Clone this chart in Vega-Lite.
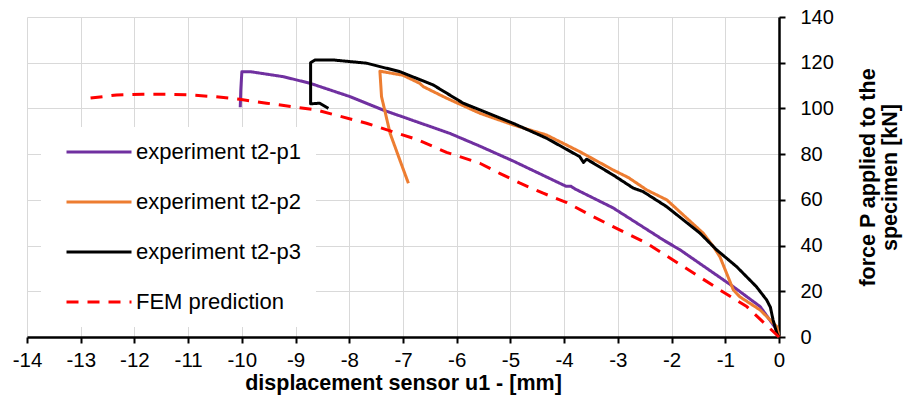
{
  "$schema": "https://vega.github.io/schema/vega-lite/v6.json",
  "width": 752,
  "height": 320,
  "autosize": {"type": "none"},
  "padding": {"left": 27, "top": 17, "right": 134, "bottom": 64},
  "background": "white",
  "config": {
    "font": "Liberation Sans",
    "view": {"stroke": null},
    "axis": {
      "gridColor": "#D9D9D9",
      "gridWidth": 1,
      "domainColor": "black",
      "domainWidth": 2.5,
      "tickColor": "black",
      "tickWidth": 2,
      "tickSize": 6,
      "labelColor": "black",
      "labelFlush": false,
      "titleFontWeight": "bold",
      "titleColor": "black"
    }
  },
  "data": {
    "values": [
      {"s": "experiment t2-p1", "i": 0, "x": 0, "y": 0},
      {"s": "experiment t2-p1", "i": 1, "x": -0.04, "y": 3.1},
      {"s": "experiment t2-p1", "i": 2, "x": -0.35, "y": 13.3},
      {"s": "experiment t2-p1", "i": 3, "x": -0.85, "y": 22},
      {"s": "experiment t2-p1", "i": 4, "x": -1.84, "y": 38.1},
      {"s": "experiment t2-p1", "i": 5, "x": -2.15, "y": 42.4},
      {"s": "experiment t2-p1", "i": 6, "x": -3.09, "y": 56.5},
      {"s": "experiment t2-p1", "i": 7, "x": -3.8, "y": 64.8},
      {"s": "experiment t2-p1", "i": 8, "x": -3.87, "y": 65.9},
      {"s": "experiment t2-p1", "i": 9, "x": -3.97, "y": 66.0},
      {"s": "experiment t2-p1", "i": 10, "x": -4.95, "y": 77},
      {"s": "experiment t2-p1", "i": 11, "x": -5.57, "y": 83.5},
      {"s": "experiment t2-p1", "i": 12, "x": -6.13, "y": 89.1},
      {"s": "experiment t2-p1", "i": 13, "x": -6.75, "y": 94.2},
      {"s": "experiment t2-p1", "i": 14, "x": -7.37, "y": 99.3},
      {"s": "experiment t2-p1", "i": 15, "x": -7.99, "y": 105.2},
      {"s": "experiment t2-p1", "i": 16, "x": -8.73, "y": 111},
      {"s": "experiment t2-p1", "i": 17, "x": -9.23, "y": 113.9},
      {"s": "experiment t2-p1", "i": 18, "x": -9.85, "y": 116.1},
      {"s": "experiment t2-p1", "i": 19, "x": -10.0, "y": 116},
      {"s": "experiment t2-p1", "i": 20, "x": -10.02, "y": 108},
      {"s": "experiment t2-p1", "i": 21, "x": -10.03, "y": 100.5},

      {"s": "experiment t2-p2", "i": 0, "x": 0, "y": 0},
      {"s": "experiment t2-p2", "i": 1, "x": -0.04, "y": 4.5},
      {"s": "experiment t2-p2", "i": 2, "x": -0.35, "y": 11.8},
      {"s": "experiment t2-p2", "i": 3, "x": -0.73, "y": 17.6},
      {"s": "experiment t2-p2", "i": 4, "x": -0.85, "y": 20.6},
      {"s": "experiment t2-p2", "i": 5, "x": -1.10, "y": 35.1},
      {"s": "experiment t2-p2", "i": 6, "x": -1.22, "y": 39.5},
      {"s": "experiment t2-p2", "i": 7, "x": -1.41, "y": 45.4},
      {"s": "experiment t2-p2", "i": 8, "x": -2.09, "y": 60},
      {"s": "experiment t2-p2", "i": 9, "x": -2.46, "y": 64.3},
      {"s": "experiment t2-p2", "i": 10, "x": -2.80, "y": 69.7},
      {"s": "experiment t2-p2", "i": 11, "x": -3.09, "y": 73.1},
      {"s": "experiment t2-p2", "i": 12, "x": -3.71, "y": 81.1},
      {"s": "experiment t2-p2", "i": 13, "x": -4.33, "y": 88.4},
      {"s": "experiment t2-p2", "i": 14, "x": -4.95, "y": 92.8},
      {"s": "experiment t2-p2", "i": 15, "x": -5.57, "y": 97.9},
      {"s": "experiment t2-p2", "i": 16, "x": -6.19, "y": 104.5},
      {"s": "experiment t2-p2", "i": 17, "x": -6.62, "y": 109.5},
      {"s": "experiment t2-p2", "i": 18, "x": -6.69, "y": 111},
      {"s": "experiment t2-p2", "i": 19, "x": -7.0, "y": 114.5},
      {"s": "experiment t2-p2", "i": 20, "x": -7.43, "y": 116.3},
      {"s": "experiment t2-p2", "i": 21, "x": -7.40, "y": 105.2},
      {"s": "experiment t2-p2", "i": 22, "x": -7.24, "y": 89.1},
      {"s": "experiment t2-p2", "i": 23, "x": -7.06, "y": 77.5},
      {"s": "experiment t2-p2", "i": 24, "x": -6.90, "y": 67.3},

      {"s": "experiment t2-p3", "i": 0, "x": 0, "y": 0},
      {"s": "experiment t2-p3", "i": 1, "x": -0.04, "y": 1.6},
      {"s": "experiment t2-p3", "i": 2, "x": -0.11, "y": 7.4},
      {"s": "experiment t2-p3", "i": 3, "x": -0.16, "y": 13},
      {"s": "experiment t2-p3", "i": 4, "x": -0.23, "y": 16.2},
      {"s": "experiment t2-p3", "i": 5, "x": -0.42, "y": 22},
      {"s": "experiment t2-p3", "i": 6, "x": -0.79, "y": 30.8},
      {"s": "experiment t2-p3", "i": 7, "x": -1.16, "y": 38.1},
      {"s": "experiment t2-p3", "i": 8, "x": -1.47, "y": 45.4},
      {"s": "experiment t2-p3", "i": 9, "x": -2.09, "y": 57},
      {"s": "experiment t2-p3", "i": 10, "x": -2.53, "y": 63.6},
      {"s": "experiment t2-p3", "i": 11, "x": -2.71, "y": 65.1},
      {"s": "experiment t2-p3", "i": 12, "x": -3.09, "y": 70.9},
      {"s": "experiment t2-p3", "i": 13, "x": -3.58, "y": 77.8},
      {"s": "experiment t2-p3", "i": 14, "x": -3.64, "y": 76.4},
      {"s": "experiment t2-p3", "i": 15, "x": -3.71, "y": 78.9},
      {"s": "experiment t2-p3", "i": 16, "x": -4.33, "y": 87},
      {"s": "experiment t2-p3", "i": 17, "x": -4.95, "y": 93.5},
      {"s": "experiment t2-p3", "i": 18, "x": -5.88, "y": 102.3},
      {"s": "experiment t2-p3", "i": 19, "x": -6.44, "y": 110.3},
      {"s": "experiment t2-p3", "i": 20, "x": -7.06, "y": 116.1},
      {"s": "experiment t2-p3", "i": 21, "x": -7.68, "y": 119.8},
      {"s": "experiment t2-p3", "i": 22, "x": -8.30, "y": 121.2},
      {"s": "experiment t2-p3", "i": 23, "x": -8.64, "y": 121.2},
      {"s": "experiment t2-p3", "i": 24, "x": -8.72, "y": 120},
      {"s": "experiment t2-p3", "i": 25, "x": -8.72, "y": 102},
      {"s": "experiment t2-p3", "i": 26, "x": -8.55, "y": 102.3},
      {"s": "experiment t2-p3", "i": 27, "x": -8.39, "y": 100},

      {"s": "FEM prediction", "i": 0, "x": 0, "y": 0},
      {"s": "FEM prediction", "i": 1, "x": -0.6, "y": 13.3},
      {"s": "FEM prediction", "i": 2, "x": -1.10, "y": 20.6},
      {"s": "FEM prediction", "i": 3, "x": -2.46, "y": 41},
      {"s": "FEM prediction", "i": 4, "x": -3.09, "y": 48.3},
      {"s": "FEM prediction", "i": 5, "x": -3.52, "y": 53.4},
      {"s": "FEM prediction", "i": 6, "x": -3.95, "y": 58.8},
      {"s": "FEM prediction", "i": 7, "x": -4.39, "y": 62.9},
      {"s": "FEM prediction", "i": 8, "x": -4.82, "y": 67.3},
      {"s": "FEM prediction", "i": 9, "x": -5.20, "y": 71.6},
      {"s": "FEM prediction", "i": 10, "x": -5.57, "y": 76},
      {"s": "FEM prediction", "i": 11, "x": -6.19, "y": 80.8},
      {"s": "FEM prediction", "i": 12, "x": -6.75, "y": 86.5},
      {"s": "FEM prediction", "i": 13, "x": -7.68, "y": 93.5},
      {"s": "FEM prediction", "i": 14, "x": -8.61, "y": 99.3},
      {"s": "FEM prediction", "i": 15, "x": -9.54, "y": 102.3},
      {"s": "FEM prediction", "i": 16, "x": -10.04, "y": 104},
      {"s": "FEM prediction", "i": 17, "x": -10.53, "y": 105.2},
      {"s": "FEM prediction", "i": 18, "x": -10.97, "y": 105.9},
      {"s": "FEM prediction", "i": 19, "x": -11.40, "y": 106.2},
      {"s": "FEM prediction", "i": 20, "x": -11.84, "y": 106.2},
      {"s": "FEM prediction", "i": 21, "x": -12.33, "y": 105.9},
      {"s": "FEM prediction", "i": 22, "x": -12.83, "y": 104.5}
    ]
  },
  "mark": {"type": "line", "strokeWidth": 3, "strokeJoin": "round", "strokeCap": "butt"},
  "encoding": {
    "x": {
      "field": "x",
      "type": "quantitative",
      "scale": {"domain": [-14, 0], "nice": false, "zero": false},
      "axis": {
        "values": [-14, -13, -12, -11, -10, -9, -8, -7, -6, -5, -4, -3, -2, -1, 0],
        "labelExpr": "replace(datum.label, '−', '-')",
        "labelFontSize": 20.5,
        "labelPadding": 7,
        "title": "displacement sensor u1 - [mm]",
        "titleFontSize": 21.5,
        "titlePadding": 2
      }
    },
    "y": {
      "field": "y",
      "type": "quantitative",
      "scale": {"domain": [0, 140], "nice": false},
      "axis": {
        "orient": "right",
        "values": [0, 20, 40, 60, 80, 100, 120, 140],
        "labelFontSize": 20,
        "labelPadding": 15,
        "title": ["force P applied to the", "specimen [kN]"],
        "titleFontSize": 21.5,
        "titleAngle": 270,
        "titleLineHeight": 22,
        "titlePadding": 24
      }
    },
    "order": {"field": "i", "type": "quantitative"},
    "color": {
      "field": "s",
      "type": "nominal",
      "scale": {
        "domain": ["experiment t2-p1", "experiment t2-p2", "experiment t2-p3", "FEM prediction"],
        "range": ["#7030A0", "#ED7D31", "#000000", "#FF0000"]
      },
      "legend": {
        "title": null,
        "orient": "none",
        "legendX": 14,
        "legendY": 110,
        "fillColor": "white",
        "padding": 14,
        "symbolType": "stroke",
        "symbolSize": 4225,
        "symbolStrokeWidth": 3,
        "clipHeight": 22,
        "rowPadding": 28,
        "labelFontSize": 22,
        "labelColor": "black",
        "labelLimit": 300,
        "labelOffset": 3,
        "symbolOffset": 10
      }
    },
    "strokeDash": {
      "field": "s",
      "type": "nominal",
      "scale": {
        "domain": ["experiment t2-p1", "experiment t2-p2", "experiment t2-p3", "FEM prediction"],
        "range": [[1, 0], [1, 0], [1, 0], [12, 9]]
      },
      "legend": null
    }
  }
}
